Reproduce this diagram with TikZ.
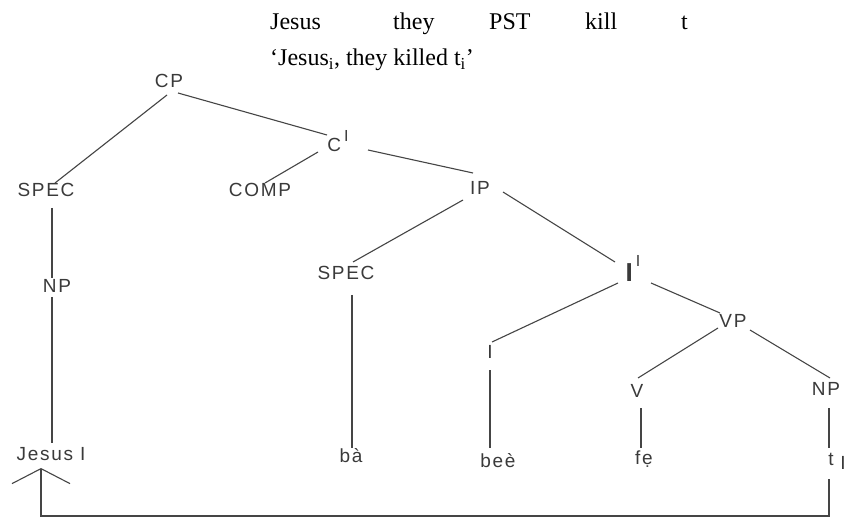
\documentclass[tikz,border=0pt]{standalone}
\usepackage{fontspec}
\setmainfont{Liberation Serif}
\newfontfamily\treefont[LetterSpace=9]{Liberation Sans}
\usetikzlibrary{calc,arrows.meta}
\definecolor{inkgray}{HTML}{3A3A3A}
\definecolor{linegray}{HTML}{454545}
\tikzset{
  lab/.style={font=\treefont\fontsize{19}{19}\selectfont, text=inkgray, inner sep=0pt, anchor=base},
  edge/.style={draw=linegray, line width=1.1pt},
  gloss/.style={font=\fontsize{24}{24}\selectfont, anchor=base west, inner sep=0pt}
}
\begin{document}
\begin{tikzpicture}[x=1pt,y=-1pt]
\useasboundingbox[fill=white] (0,0) rectangle (848,518);

% interlinear gloss and translation
\node[gloss] (gjesus) at (270,30) {Jesus};
\node[gloss] (gthey)  at (393,30) {they};
\node[gloss] (gpst)   at (489,30) {PST};
\node[gloss] (gkill)  at (585,30) {kill};
\node[gloss] (gt)     at (681,30) {t};
\node[gloss] (trans)  at (270,66) {‘Jesus\textsubscript{i}, they killed t\textsubscript{i}’};

% tree labels (placed by baseline)
\node[lab] (cp)    at (169,88)  {CP};
\node[lab] (cbar)  at (338,152) {C\hspace{3pt}\raisebox{10pt}{\fontsize{16}{16}\selectfont I}};
\node[lab] (spec1) at (46,197)  {SPEC};
\node[lab] (comp)  at (260,197) {COMP};
\node[lab] (ip)    at (480,195) {IP};
\node[lab] (np1)   at (57,293)  {NP};
\node[lab] (spec2) at (346,280) {SPEC};
\node[lab] (ibar)  at (633,282) {{\fontsize{26}{26}\selectfont\bfseries I}\hspace{3pt}\raisebox{15pt}{\fontsize{16}{16}\selectfont I}};
\node[lab] (infl)  at (490,358) {I};
\node[lab] (vp)    at (733,327) {VP};
\node[lab] (verb)  at (637,397) {V};
\node[lab] (np2)   at (826,395) {NP};
\node[lab] (jesus) at (51,460)  {Jesus\hspace{7pt}I};
\node[lab] (ba)    at (351,462) {bà};
\node[lab] (bee)   at (498,467) {beè};
\node[lab] (fe)    at (644,464) {fẹ};
\node[lab] (trace) at (831,465) {t};
\node[lab] (tidx)  at (843,469) {I};

% branches
\draw[edge] ($(cp.base)+(-2,7)$)    -- ($(spec1.base)+(9,-14)$);
\draw[edge] ($(cp.base)+(9,5)$)     -- ($(cbar.base)+(-11,-17)$);
\draw[edge] ($(cbar.base)+(-20,0)$) -- ($(comp.base)+(5,-14)$);
\draw[edge] ($(cbar.base)+(30,-2)$) -- ($(ip.base)+(-7,-22)$);
\draw[edge] ($(ip.base)+(-17,5)$)   -- ($(spec2.base)+(7,-18)$);
\draw[edge] ($(ip.base)+(23,-3)$)   -- ($(ibar.base)+(-18,-20)$);
\draw[edge] ($(ibar.base)+(-15,1)$) -- ($(infl.base)+(2,-16)$);
\draw[edge] ($(ibar.base)+(18,1)$)  -- ($(vp.base)+(-13,-14)$);
\draw[edge] ($(vp.base)+(-15,1)$)   -- ($(verb.base)+(1,-19)$);
\draw[edge] ($(vp.base)+(17,3)$)    -- ($(np2.base)+(4,-17)$);

% unary branches
\draw[edge] ($(spec1.base)+(6,11)$) -- ($(np1.base)+(-5,-15)$);
\draw[edge] ($(np1.base)+(-5,4)$)   -- ($(jesus.base)+(1,-17)$);
\draw[edge] ($(spec2.base)+(6,15)$) -- ($(ba.base)+(1,-14)$);
\draw[edge] ($(infl.base)+(0,12)$)  -- ($(bee.base)+(-8,-19)$);
\draw[edge] ($(verb.base)+(4,11)$)  -- ($(fe.base)+(-3,-16)$);
\draw[edge] ($(np2.base)+(3,13)$)   -- ($(trace.base)+(-2,-17)$);

% movement arrow from the trace back to the fronted NP
\draw[edge, line width=1.3pt, -{Straight Barb[length=15pt,width=58pt,line width=1.1pt]}]
  ($(trace.base)+(-2,14)$) -- ($(trace.base)+(-2,51)$) -| ($(jesus.base)+(-10,8)$);
\end{tikzpicture}
\end{document}
